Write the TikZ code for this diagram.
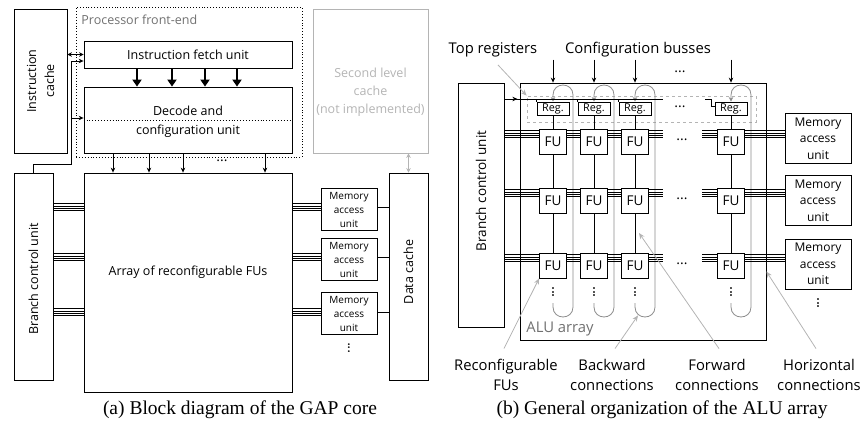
\documentclass[tikz,border=0pt]{standalone}
\usepackage{fontspec}
\setmainfont{Liberation Serif}
\newfontfamily\osans{Open Sans}
\usetikzlibrary{arrows.meta,calc}
\newcommand\fsz[2]{\fontsize{#1}{#2}\selectfont}
\definecolor{lgray}{HTML}{B4B4B4}
\definecolor{mgray}{HTML}{8C8C8C}
\definecolor{tgray}{HTML}{707070}
\newcommand\busl[2]{\foreach \d in {-3.45,-1.15,1.15,3.45}{\draw[line width=0.6pt] ($#1+(0,\d)$) -- ($#2+(0,\d)$);}}
\begin{document}
\begin{tikzpicture}[x=1pt,y=-1pt,line width=0.8pt,
  box/.style={draw,inner sep=0pt,line width=0.8pt},
  ta/.style={font=\osans\fsz{12.5}{18}},
  tam/.style={font=\osans\fsz{10}{14}},
  tb/.style={font=\osans\fsz{14.8}{20}},
  tbm/.style={font=\osans\fsz{12}{16.5}},
  tip/.style={-{Stealth[length=5pt,width=4.5pt]}},
  thickarr/.style={line width=1.8pt,-{Triangle[length=7pt,width=9pt]}},
  garr/.style={lgray,line width=0.8pt,-{Stealth[length=6pt,width=5pt]}},
  dots/.style={font=\osans\fsz{14}{14},inner sep=0pt}]
\useasboundingbox (0,0) rectangle (861,428);

% ---------------- panel (a) ----------------
\node[box,minimum width=53,minimum height=144] (ic) at (40.5,81) {};
\node[ta,rotate=90,align=center] at (ic.center) {Instruction\\cache};
\node[draw,dotted,line width=0.9pt,minimum width=226,minimum height=150,inner sep=0pt] (fe) at (189,82) {};
\node[ta,text=tgray,anchor=west,inner sep=0pt] (fel) at (81,20) {Processor front-end};
\node[box,ta,minimum width=208,minimum height=27] (fetch) at (188,54.5) {Instruction fetch unit};
\node[box,minimum width=208,minimum height=66] (dec) at (188,120) {};
\draw[dotted,line width=0.9pt] (dec.west) -- (dec.east);
\node[ta] (dec1) at (188,111) {Decode and};
\node[ta] (dec2) at (188,131) {configuration unit};
\node[box,minimum width=208,minimum height=219] (arr) at (188,282.5) {};
\node[ta] (arrl) at (188,272) {Array of reconfigurable FUs};
\node[box,minimum width=39,minimum height=207] (bcu) at (33.5,276.5) {};
\node[ta,rotate=90] at (33.5,279) {Branch control unit};
\node[box,draw=lgray,minimum width=115,minimum height=144] (l2) at (370.5,81) {};
\node[ta,text=lgray,align=center] at (370.5,92) {Second level\\cache\\(not implemented)};
\node[box,minimum width=39,minimum height=207] (dc) at (408.5,276.5) {};
\node[ta,rotate=90] at (408.5,272) {Data cache};
\foreach \k/\yy in {1/209.5,2/259.5,3/313.5}
  \node[box,tam,align=center,minimum width=56,minimum height=42] (ma\k) at (349,\yy) {Memory\\access\\unit};
\node[dots,rotate=90] at (349,348) {...};

% thick arrows fetch -> decode
\foreach \x in {137,172,205,237}{
  \coordinate (tx) at (\x,0);
  \draw[thickarr] (fetch.south -| tx) -- (dec.north -| tx);}
% decode -> array
\foreach \x in {113,149,183,265}{
  \coordinate (dx) at (\x,0);
  \draw[tip,line width=0.7pt] (dec.south -| dx) -- (arr.north -| dx);}
\node[dots] at (222,161) {...};
% instruction cache links
\draw[{Stealth[length=4.5pt,width=4.5pt]}-{Stealth[length=4.5pt,width=4.5pt]},line width=0.7pt] (ic.east |- fetch.west) -- (fetch.west);
\coordinate (j) at (71,164);
\coordinate (k) at (71,118);
\draw[tip,line width=0.7pt] (bcu.north) |- (j) |- ($(fetch.west)+(0,6.5)$);
\draw[tip,line width=0.7pt] (k) -- (k -| dec.west);
% L2 <-> data cache
\draw[lgray,{Stealth[length=4.5pt,width=4.5pt]}-{Stealth[length=4.5pt,width=4.5pt]},line width=0.7pt] (l2.south -| dc.north) -- (dc.north);
% busses (a)
\foreach \yy/\k in {207/1,257/2,312/3}{
  \coordinate (ya) at (0,\yy);
  \busl{(bcu.east |- ya)}{(arr.west |- ya)}
  \busl{(arr.east |- ya)}{(ma\k.west |- ya)}
  \draw (ma\k.east |- ya) -- (dc.west |- ya);}

% ---------------- panel (b) ----------------
\node[box,minimum width=46,minimum height=244] (bb) at (481,205) {};
\node[font=\osans\fsz{13.5}{14},rotate=90] at (481,191) {Branch control unit};
\node[box,minimum width=246,minimum height=257] (alu) at (643,211.5) {};
\node[tb,text=tgray,anchor=west,inner sep=0pt] (alul) at (526,329) {ALU array};
\node[draw=lgray,dash pattern=on 3pt off 3pt,line width=0.8pt,minimum width=229,minimum height=26,inner sep=0pt] (rb) at (641.5,109) {};
\node[tb] (tr) at (493,50) {Top registers};
\node[tb] (cbl) at (638,50) {Configuration busses};

\foreach \k/\yy in {1/138.5,2/200.5,3/264}
  \node[box,tbm,align=center,minimum width=66,minimum height=50] (m\k) at (818,\yy) {Memory\\access\\unit};
\node[dots,font=\osans\fsz{15}{15},rotate=90] at (818,303) {...};

\coordinate (bl) at (0,99);
\foreach \i/\c in {1/553,2/594,3/635,4/731}{
  \node[box,minimum width=32,minimum height=13,font=\osans\fsz{10.8}{12}] (r\i) at (\c,108.5) {Reg.};
  \foreach \jj/\yy in {1/141.5,2/200.5,3/265.5}
    \node[box,minimum width=27,minimum height=25,font=\osans\fsz{13.5}{14}] (f\i\jj) at (\c,\yy) {FU};
  \draw (r\i) -- (f\i1);
  \draw (f\i1) -- (f\i2);
  \draw (f\i2) -- (f\i3);
  \node[dots,font=\osans\fsz{15}{15},rotate=90] at (\c,292) {...};
  \pgfmathsetmacro\cr{\c+20}
  \draw[mgray,-{Stealth[length=4.5pt,width=4.5pt]}] (\c,303) -- (\c,307) .. controls (\c,320.3) and (\cr,320.3) .. (\cr,307) -- (\cr,95) .. controls (\cr,81.7) and (\c,81.7) .. (\c,95) -- (r\i.north);
  \draw[tip,line width=0.8pt] ($(alu.north -| r\i)+(0,-23)$) -- (alu.north -| r\i);
}
% branch line to registers
\draw[tip,line width=0.8pt] (bb.east |- bl) -- ++(13,0);
\coordinate (blend) at (663,99);
\draw (bb.east |- bl) -- (blend);
\foreach \i in {1,2,3}
  \draw (r\i.north west |- bl) -- (r\i.north west);
\coordinate (bl4) at (705,99);
\draw (bl4) -| ($(r4.west)+(-3,-2)$) -- ($(r4.west)+(0,-2)$);
% dots in (b)
\node[dots] at (680,72) {...};
\node[dots] at (680,107) {...};
\foreach \yy in {141.5,200.5,265.5}
  \node[dots] at (682,\yy-2) {...};
% busses (b)
\foreach \jj in {1,2,3}{
  \coordinate (yb) at ($(f1\jj.north)+(0,5.5)$);
  \coordinate (gapl) at ($(f3\jj.east)+(14,0)$);
  \coordinate (gapr) at ($(f4\jj.west)+(-15,0)$);
  \busl{(bb.east |- yb)}{(f1\jj.west |- yb)}
  \busl{(f1\jj.east |- yb)}{(f2\jj.west |- yb)}
  \busl{(f2\jj.east |- yb)}{(f3\jj.west |- yb)}
  \busl{(f3\jj.east |- yb)}{(gapl |- yb)}
  \busl{(gapr |- yb)}{(f4\jj.west |- yb)}
  \busl{(f4\jj.east |- yb)}{(m\jj.west |- yb)}
}
% bottom labels
\node[tb,align=center] (lr) at (506,375) {Reconfigurable\\FUs};
\node[tb,align=center] (lbk) at (612,375) {Backward\\connections};
\node[tb,align=center] (lf) at (717,375) {Forward\\connections};
\node[tb,align=center] (lh) at (819,375) {Horizontal\\connections};
\draw[garr] ($(tr.south)+(5,4)$) -- (rb.north west);
\draw[garr] ($(lr.north)+(-2,-7)$) -- (f13.south west);
\draw[garr] ($(lbk.north)+(3,-7)$) -- ($(f33.south)+(3,37)$);
\draw[garr] ($(lf.north)+(2,-7)$) -- ($($(f32.south)!0.5!(f33.north)$)+(4,0)$);
\draw[garr] ($(lh.north)+(-3,-7)$) -- ($(alu.east |- f33.center)+(0,6)$);
% captions
\node[font=\fsz{19.5}{22}] (capa) at (240,410) {(a) Block diagram of the GAP core};
\node[font=\fsz{19.5}{22}] (capb) at (662,410) {(b) General organization of the ALU array};
\end{tikzpicture}
\end{document}
